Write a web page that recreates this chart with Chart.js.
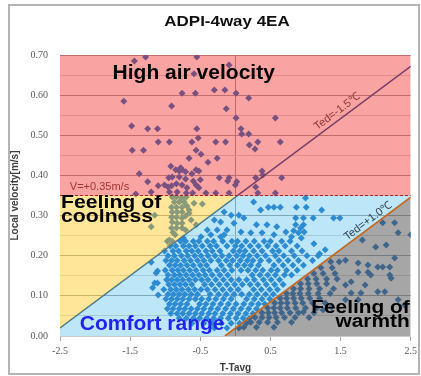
<!DOCTYPE html>
<html>
<head>
<meta charset="utf-8">
<script src="https://cdn.jsdelivr.net/npm/chart.js"></script>
<style>
  html, body { margin: 0; padding: 0; background: #fff; }
</style>
</head>
<body>
<canvas id="adpi" width="421" height="376"></canvas>
<script>
// Axis ticks (0 only carries the vertical line through the middle)
const xTicks = [-2.5, -1.5, -0.5, 0, 0.5, 1.5, 2.5];
const xTickLabels = ['-2.5', '-1.5', '-0.5', '', '0.5', '1.5', '2.5'];
const yTicks = [0, 0.05, 0.1, 0.15, 0.2, 0.25, 0.3, 0.35, 0.4, 0.45, 0.5, 0.55, 0.6, 0.65, 0.7];
const yTickLabels = ['0.00', '', '0.10', '', '0.20', '', '0.30', '', '0.40', '', '0.50', '', '0.60', '', '0.70'];

// Limit lines
const vLimit = 0.35;
const tedMinus15 = [[-2.5, 0.020], [2.5, 0.672]];
const tedPlus10 = [[-0.15, 0.0], [2.5, 0.346]];
const crossX = 0.03; // Ted=-1.5 meets V=0.35

// Measured points, T-Tavg vs local velocity
const highPts = [
  [-1.44, 0.685], [-1.28, 0.695], [-0.55, 0.695], [-0.09, 0.675], [-0.59, 0.653],
  [-1.59, 0.585], [-0.76, 0.605], [-0.57, 0.605], [-0.30, 0.613], [-0.15, 0.613], [0.01, 0.605], [0.19, 0.593],
  [-0.91, 0.573], [-0.13, 0.566], [0.01, 0.543], [0.57, 0.543],
  [-1.48, 0.523], [-1.25, 0.516], [-1.11, 0.516], [-0.55, 0.516], [0.08, 0.516], [0.09, 0.503], [0.19, 0.503],
  [-1.10, 0.483], [-0.94, 0.483], [-0.62, 0.483], [-0.53, 0.493], [-0.28, 0.483], [-0.14, 0.483],
  [0.20, 0.476], [0.28, 0.466], [0.32, 0.483], [0.64, 0.483],
  [-1.47, 0.463], [-1.31, 0.463], [-0.56, 0.463], [-0.49, 0.453], [-0.66, 0.443], [-0.39, 0.433], [-0.26, 0.443],
  [-0.92, 0.423], [-0.78, 0.419], [-1.37, 0.404], [-0.85, 0.414], [-0.80, 0.411], [-0.76, 0.414], [-0.71, 0.409],
  [-0.56, 0.414], [-0.52, 0.411], [-0.62, 0.404],
  [-0.95, 0.394], [-0.90, 0.396], [-0.80, 0.396], [-0.71, 0.391], [-0.60, 0.386], [-0.50, 0.389],
  [-0.23, 0.394], [-0.09, 0.394], [-0.11, 0.386], [0.02, 0.384], [0.38, 0.411], [0.39, 0.401], [0.66, 0.394], [0.29, 0.394],
  [-1.25, 0.384], [-1.10, 0.374], [-0.96, 0.371], [0.29, 0.371],
  [-1.01, 0.376], [-0.91, 0.374], [-0.84, 0.379], [-0.76, 0.376], [-0.69, 0.369], [-0.56, 0.376], [-0.52, 0.369], [0.00, 0.376],
  [-1.42, 0.354], [-1.20, 0.359], [-0.94, 0.359], [-0.83, 0.359], [-0.70, 0.356], [-0.61, 0.356], [-0.42, 0.356],
  [-0.28, 0.356], [-0.09, 0.356], [0.32, 0.356], [0.57, 0.356]
];

const coolPts = [
  [-0.90, 0.346], [-0.84, 0.346], [-0.77, 0.344], [-0.70, 0.346],
  [-0.87, 0.334], [-0.80, 0.334], [-0.73, 0.334], [-0.59, 0.331], [-0.47, 0.329],
  [-0.91, 0.321], [-0.84, 0.321], [-0.76, 0.321], [-0.69, 0.324], [-0.66, 0.314],
  [-0.90, 0.309], [-0.83, 0.309], [-0.76, 0.309], [-0.66, 0.306], [-1.15, 0.301],
  [-0.91, 0.296], [-0.84, 0.296], [-0.76, 0.294], [-0.71, 0.299],
  [-0.90, 0.284], [-0.83, 0.281], [-0.76, 0.281], [-0.63, 0.289], [-0.56, 0.277],
  [-1.20, 0.272], [-0.91, 0.269], [-0.84, 0.269], [-0.76, 0.269], [-0.71, 0.264],
  [-0.86, 0.252], [-0.74, 0.244], [-0.94, 0.239], [-0.89, 0.258]
];

const comfortPts = [
  [0.26, 0.334], [0.47, 0.321], [0.55, 0.321], [0.64, 0.321], [0.36, 0.314], [-0.16, 0.309], [-0.06, 0.301],
  [0.05, 0.301], [0.12, 0.294], [-0.30, 0.289], [-0.21, 0.284], [-0.02, 0.281], [0.30, 0.277], [0.45, 0.277],
  [0.59, 0.272], [-0.40, 0.264], [-0.26, 0.264], [-0.12, 0.264], [0.08, 0.259], [0.22, 0.257], [0.38, 0.257],
  [0.55, 0.252], [0.72, 0.259], [-0.49, 0.247], [-0.35, 0.252], [-0.21, 0.247], [-0.16, 0.252],
  [1.00, 0.344], [0.87, 0.321], [1.01, 0.321], [1.23, 0.314], [0.86, 0.294], [0.97, 0.294], [1.11, 0.294],
  [1.40, 0.294], [1.49, 0.294], [0.86, 0.277], [0.97, 0.277], [0.93, 0.269], [0.83, 0.262], [0.90, 0.257],
  [0.98, 0.259], [0.80, 0.247], [0.94, 0.244], [1.12, 0.230], [1.28, 0.215], [1.20, 0.205],
  [-1.20, 0.184], [-1.11, 0.162], [-1.13, 0.157], [-1.15, 0.132], [-1.11, 0.132], [-1.18, 0.120], [-1.10, 0.102]
];

// dense cluster, read row by row: [velocity, [T-Tavg ...]]
const comfortRows = [
  [0.236, [-0.97, -0.90, -0.78, -0.71, -0.60, -0.52, -0.40, -0.31, -0.18, -0.05, 0.03, 0.15, 0.27, 0.41, 0.50, 0.66, 0.78]],
  [0.224, [-0.93, -0.85, -0.74, -0.66, -0.57, -0.47, -0.36, -0.27, -0.12, 0.00, 0.09, 0.21, 0.33, 0.46, 0.58, 0.71, 0.88]],
  [0.212, [-1.01, -0.89, -0.81, -0.70, -0.62, -0.53, -0.42, -0.33, -0.22, -0.03, 0.06, 0.14, 0.26, 0.38, 0.53, 0.62, 0.80, 0.95]],
  [0.200, [-0.96, -0.87, -0.77, -0.68, -0.58, -0.49, -0.39, -0.29, -0.19, -0.09, 0.02, 0.11, 0.20, 0.31, 0.43, 0.57, 0.69, 0.84, 1.02, 1.18]],
  [0.188, [-0.99, -0.91, -0.83, -0.73, -0.64, -0.54, -0.45, -0.35, -0.24, -0.13, -0.04, 0.07, 0.17, 0.25, 0.36, 0.48, 0.62, 0.75, 0.90, 1.10]],
  [0.176, [-0.94, -0.86, -0.78, -0.69, -0.60, -0.50, -0.41, -0.20, -0.08, 0.03, 0.13, 0.22, 0.33, 0.55, 0.68, 0.82, 0.97]],
  [0.164, [-1.00, -0.90, -0.82, -0.74, -0.65, -0.56, -0.46, -0.37, -0.26, -0.16, -0.05, 0.08, 0.18, 0.29, 0.39, 0.51, 0.60, 0.73, 0.88]],
  [0.152, [-0.96, -0.87, -0.79, -0.70, -0.61, -0.52, -0.43, -0.33, -0.22, -0.11, 0.24, 0.35, 0.46, 0.57, 0.70, 0.80]],
  [0.140, [-0.98, -0.91, -0.83, -0.75, -0.66, -0.57, -0.48, -0.39, -0.28, -0.17, -0.06, 0.05, 0.16, 0.27, 0.40, 0.51, 0.63]],
  [0.128, [-0.95, -0.87, -0.79, -0.71, -0.62, -0.44, -0.34, -0.23, -0.12, -0.01, 0.10, 0.21, 0.32, 0.44, 0.56, 0.68]],
  [0.116, [-1.02, -0.92, -0.84, -0.76, -0.67, -0.58, -0.49, -0.40, -0.29, -0.18, -0.07, 0.04, 0.26, 0.37, 0.49, 0.60]],
  [0.104, [-0.96, -0.88, -0.80, -0.72, -0.63, -0.54, -0.36, -0.24, -0.13, -0.02, 0.09, 0.20, 0.31, 0.43, 0.54]],
  [0.092, [-0.99, -0.91, -0.83, -0.75, -0.66, -0.57, -0.48, -0.38, -0.28, -0.17, -0.06, 0.16, 0.27, 0.38, 0.49]],
  [0.080, [-0.94, -0.86, -0.78, -0.69, -0.51, -0.42, -0.32, -0.21, -0.10, 0.01, 0.12, 0.23, 0.33, 0.42]],
  [0.068, [-0.97, -0.89, -0.80, -0.72, -0.63, -0.54, -0.45, -0.35, -0.25, -0.14, -0.03, 0.08, 0.19, 0.30]],
  [0.056, [-0.92, -0.83, -0.75, -0.66, -0.57, -0.48, -0.38, -0.29, -0.18, -0.07, 0.04, 0.15, 0.25]],
  [0.044, [-0.80, -0.70, -0.60, -0.51, -0.41, -0.31, -0.21, -0.10, 0.01, 0.11, 0.20]],
  [0.032, [-0.62, -0.45, -0.33, -0.20, -0.06, 0.06, 0.16]],
  [0.020, [-0.30, -0.12, 0.05]]
];

const warmPts = [
  [1.57, 0.189], [1.75, 0.182], [1.89, 0.177], [2.03, 0.172], [2.10, 0.172], [2.20, 0.172], [2.27, 0.194],
  [1.75, 0.159], [1.89, 0.159], [1.93, 0.152], [2.22, 0.144], [2.20, 0.152], [1.65, 0.135], [1.57, 0.127],
  [1.85, 0.127], [2.32, 0.090], [2.03, 0.110], [2.13, 0.110], [1.79, 0.107], [1.65, 0.107], [1.75, 0.090],
  [1.57, 0.090], [1.37, 0.072], [1.25, 0.065], [0.97, 0.060], [2.41, 0.077],
  [1.81, 0.239], [2.00, 0.222], [2.15, 0.227], [2.27, 0.282], [2.50, 0.252], [2.32, 0.257], [2.10, 0.282]
];

const warmRows = [
  [0.022, [0.12, 0.30, 0.55]],
  [0.034, [0.22, 0.34, 0.46, 0.60, 0.80]],
  [0.046, [0.28, 0.38, 0.48, 0.58, 0.70, 0.85, 1.05]],
  [0.058, [0.38, 0.47, 0.56, 0.66, 0.78, 0.90, 1.12]],
  [0.070, [0.46, 0.55, 0.64, 0.74, 0.86, 1.00, 1.16]],
  [0.082, [0.56, 0.65, 0.74, 0.85, 0.96, 1.10, 1.28]],
  [0.094, [0.64, 0.73, 0.83, 0.94, 1.06, 1.20]],
  [0.106, [0.73, 0.82, 0.92, 1.04, 1.18, 1.35]],
  [0.118, [0.83, 0.93, 1.05, 1.20, 1.40]],
  [0.130, [0.93, 1.04, 1.16, 1.30]],
  [0.142, [1.03, 1.15, 1.30, 1.45]],
  [0.156, [1.12, 1.25, 1.42]],
  [0.170, [1.22, 1.38]],
  [0.185, [1.36, 1.48]]
];

// Text placed on the plot, in data coordinates
const notes = [
  { text: 'High air velocity', x: -1.75, y: 0.640, font: 'bold 21px "Liberation Sans"', color: '#000' },
  { text: 'V=+0.35m/s', x: -2.36, y: 0.364, font: '11px "Liberation Sans"', color: '#a33535' },
  { text: 'Feeling of', x: -2.486, y: 0.318, font: 'bold 18px "Liberation Sans"', color: '#000', sx: 1.18 },
  { text: 'coolness', x: -2.486, y: 0.285, font: 'bold 18px "Liberation Sans"', color: '#000', sx: 1.18 },
  { text: 'Comfort range', x: -2.217, y: 0.015, font: 'bold 21px "Liberation Sans"', color: '#2222ee' },
  { text: 'Feeling of', x: 2.486, y: 0.0565, font: 'bold 18px "Liberation Sans"', color: '#000', sx: 1.16, align: 'right' },
  { text: 'warmth', x: 2.486, y: 0.0217, font: 'bold 18px "Liberation Sans"', color: '#000', sx: 1.16, align: 'right' },
  { text: 'Ted=-1.5\u2103', x: 1.452, y: 0.559, font: '11px "Liberation Sans"', color: '#8a3535', rot: -36.6, align: 'center', base: 'middle' },
  { text: 'Ted=+1.0\u2103', x: 1.891, y: 0.2865, font: '11px "Liberation Sans"', color: '#34414f', rot: -37, align: 'center', base: 'middle' }
];

function rowsToPoints(rows) {
  const out = [];
  rows.forEach(([y, xs]) => xs.forEach(x => out.push({ x, y })));
  return out;
}
const xy = ([x, y]) => ({ x, y });

const allPoints = [...highPts, ...coolPts, ...comfortPts, ...warmPts].map(xy)
  .concat(rowsToPoints(comfortRows), rowsToPoints(warmRows));

const xMin = tedMinus15[0][0], xMax = tedMinus15[1][0];

// zone outlines built from the limit lines
const zoneLine = (data, extra) => Object.assign({
  type: 'scatter', data, showLine: true, pointRadius: 0,
  borderColor: 'rgba(0,0,0,0)', borderWidth: 1, order: 5
}, extra);

const datasets = [
  { // 0 measured points
    type: 'scatter', data: allPoints, pointStyle: 'rectRot', pointRadius: 3.5,
    backgroundColor: 'rgb(50,125,200)', borderWidth: 0, order: 10
  },
  { // 1 Ted=-1.5 line (tinted by the zones drawn over it)
    type: 'scatter', data: tedMinus15.map(xy), showLine: true, pointRadius: 0,
    borderColor: 'rgb(40,90,160)', borderWidth: 1.5, order: 8
  },
  // 2 high air velocity
  zoneLine([{ x: xMin, y: vLimit }, { x: xMax, y: vLimit }], { fill: 'end', backgroundColor: 'rgba(242,6,6,0.37)' }),
  // 3/4 feeling of coolness
  zoneLine([{ x: xMin, y: vLimit }, { x: crossX, y: vLimit }], { fill: 4, backgroundColor: 'rgba(255,195,12,0.42)' }),
  zoneLine([xy(tedMinus15[0]), { x: crossX, y: vLimit }]),
  // 5/6 comfort range
  zoneLine([xy(tedMinus15[0]), { x: crossX, y: vLimit }, { x: xMax, y: vLimit }], { fill: 6, backgroundColor: 'rgba(38,172,232,0.30)' }),
  zoneLine([{ x: xMin, y: 0 }, xy(tedPlus10[0]), xy(tedPlus10[1])]),
  // 7 feeling of warmth
  zoneLine(tedPlus10.map(xy), { fill: 'origin', backgroundColor: 'rgba(77,77,77,0.5)' }),
  { // 8 Ted=+1.0 line
    type: 'scatter', data: tedPlus10.map(xy), showLine: true, pointRadius: 0,
    borderColor: '#c8651b', borderWidth: 1.6, order: 1
  },
  { // 9 V=0.35 dashed line
    type: 'scatter', data: [{ x: xMin, y: vLimit }, { x: xMax, y: vLimit }], showLine: true, pointRadius: 0,
    borderColor: '#b02020', borderWidth: 1, borderDash: [3, 2], order: 1
  }
];

const decorations = {
  id: 'decorations',
  beforeDraw(chart) {
    const ctx = chart.ctx;
    ctx.save();
    ctx.fillStyle = '#fff';
    ctx.fillRect(0, 0, chart.width, chart.height);
    ctx.strokeStyle = '#b4b4b4';
    ctx.lineWidth = 2;
    ctx.strokeRect(9, 5, 410, 369);
    ctx.restore();
  },
  afterDatasetsDraw(chart) {
    const ctx = chart.ctx;
    const xs = chart.scales.x, ys = chart.scales.y;
    notes.forEach(n => {
      ctx.save();
      ctx.translate(xs.getPixelForValue(n.x), ys.getPixelForValue(n.y));
      if (n.rot) ctx.rotate(n.rot * Math.PI / 180);
      if (n.sx) ctx.scale(n.sx, 1);
      ctx.font = n.font;
      ctx.fillStyle = n.color;
      ctx.textAlign = n.align || 'left';
      ctx.textBaseline = n.base || 'alphabetic';
      ctx.fillText(n.text, 0, 0);
      ctx.restore();
    });
  },
  afterDraw(chart) {
    const ctx = chart.ctx;
    ctx.save();
    ctx.translate(227, 26);
    ctx.scale(1.13, 1);
    ctx.font = 'bold 15px "Liberation Sans"';
    ctx.fillStyle = '#111';
    ctx.textAlign = 'center';
    ctx.textBaseline = 'alphabetic';
    ctx.fillText('ADPI-4way 4EA', 0, 0);
    ctx.restore();
  }
};

new Chart(document.getElementById('adpi'), {
  type: 'scatter',
  data: { datasets },
  plugins: [decorations],
  options: {
    responsive: false,
    animation: false,
    devicePixelRatio: 1,
    layout: { padding: { left: 8, right: 8, top: 55, bottom: 0 } },
    plugins: {
      legend: { display: false },
      tooltip: { enabled: false },
      title: { display: false }
    },
    scales: {
      x: {
        type: 'linear', min: xMin, max: xMax,
        afterBuildTicks: s => { s.ticks = xTicks.map(v => ({ value: v })); },
        afterFit: s => { s.height = 40; },
        ticks: {
          callback: (v, i) => xTickLabels[i],
          font: { family: '"Liberation Serif"', size: 10 }, color: '#595959',
          padding: 4, maxRotation: 0, autoSkip: false
        },
        grid: {
          color: c => (c.tick && c.tick.value === 0) ? '#a6a6a6' : 'rgba(0,0,0,0)',
          tickColor: c => (c.tick && c.tick.value === 0) ? 'rgba(0,0,0,0)' : '#a6a6a6',
          tickLength: 5
        },
        border: { color: '#c8c8c8' },
        title: {
          display: true, text: 'T-Tavg', color: '#404040',
          font: { family: '"Liberation Sans"', size: 10, weight: 'bold' },
          padding: { top: 0, bottom: 2 }
        }
      },
      y: {
        type: 'linear', min: 0, max: 0.7,
        afterBuildTicks: s => { s.ticks = yTicks.map(v => ({ value: v })); },
        afterFit: s => { s.width = 52; },
        ticks: {
          callback: (v, i) => yTickLabels[i],
          font: { family: '"Liberation Serif"', size: 10 }, color: '#595959',
          padding: 12, autoSkip: false
        },
        grid: {
          color: c => (c.tick && Math.round(c.tick.value * 100) % 10 === 0) ? '#a6a6a6' : '#d9d9d9',
          drawTicks: false
        },
        border: { display: false },
        title: {
          display: true, text: 'Local velocity[m/s]', color: '#404040',
          font: { family: '"Liberation Sans"', size: 10, weight: 'bold' },
          padding: { top: 1, bottom: 0 }
        }
      }
    }
  }
});
</script>
</body>
</html>
